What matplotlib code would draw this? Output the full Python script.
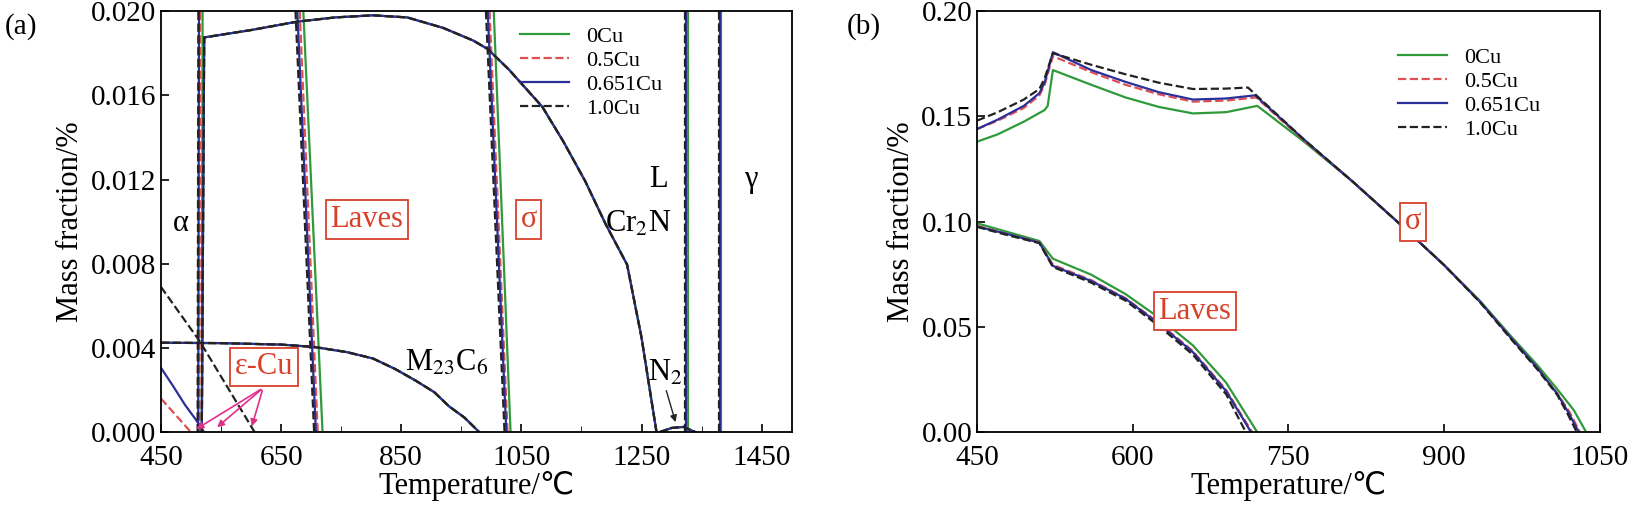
import numpy as np
import matplotlib.pyplot as plt

plt.rcParams['font.family'] = ['Liberation Serif', 'DejaVu Sans']
plt.rcParams['mathtext.fontset'] = 'stix'

labels = ['0Cu', '0.5Cu', '0.651Cu', '1.0Cu']
colors = ['#2e9a3a', '#e05050', '#2b2f9a', '#222222']
styles = ['-', '--', '-', '--']
box_red = '#d8402a'

# ---- panel (a) data: (T, fraction) ----
a_alpha_T = [[518, 520], [514, 516], [512, 514], [511, 513]]
a_up_T = [518, 522, 600, 677, 740, 803, 860, 920, 970, 994, 1030, 1085, 1120, 1156, 1190, 1226, 1250, 1275]
a_up_y = [0.0, 0.01875, 0.0191, 0.0195, 0.0197, 0.0198, 0.0197, 0.0192, 0.0186, 0.0182, 0.0172, 0.01545,
          0.0138, 0.01194, 0.0099, 0.00796, 0.0045, 0.0]
a_lav_top = [687, 681, 677, 674]
a_lav_bot = [719, 711, 708, 705]
a_sig_top = [1004, 997, 994, 991]
a_sig_bot = [1032, 1027, 1025, 1022]
a_L = [1327, 1325, 1324, 1322]
a_gam = [1382, 1381, 1380, 1379]
a_m_T = [450, 550, 650, 705, 760, 803, 840, 874, 905, 930, 955, 980]
a_m_y = [0.00425, 0.00423, 0.00416, 0.00405, 0.0038, 0.0035, 0.0030, 0.00245, 0.0019, 0.00122, 0.0007, 0.0]
a_eps_T = [[], [450, 475, 500], [450, 470, 490, 508, 522], [450, 515, 606]]
a_eps_y = [[], [0.0016, 0.0008, 0.0], [0.00306, 0.0022, 0.0013, 0.0006, 0.0], [0.0069, 0.0043, 0.0]]
a_n2_T = [1280, 1300, 1320, 1340]
a_n2_y = [0.0, 0.0002, 0.00025, 0.0]

# ---- panel (b) data ----
b_sig_T = [[450, 470, 495, 515, 518, 523, 560, 593, 625, 658, 690, 720, 765, 812, 856, 900, 935, 965, 990, 1009, 1025, 1037],
           [450, 470, 495, 510, 515, 523, 560, 593, 625, 658, 690, 719, 765, 812, 856, 900, 935, 965, 990, 1009, 1021, 1031],
           [450, 470, 495, 510, 515, 523, 560, 593, 625, 658, 690, 718, 765, 812, 856, 900, 935, 965, 990, 1009, 1020, 1030],
           [450, 470, 495, 510, 515, 523, 560, 593, 625, 658, 690, 711, 765, 812, 856, 900, 935, 965, 990, 1009, 1019, 1028]]
b_sig_y = [[0.138, 0.1415, 0.1475, 0.153, 0.155, 0.172, 0.165, 0.159, 0.1545, 0.1514, 0.152, 0.155, 0.138, 0.119, 0.0995, 0.0794, 0.0622, 0.0453, 0.0318, 0.0205, 0.0105, 0.0],
           [0.144, 0.148, 0.154, 0.160, 0.165, 0.1786, 0.171, 0.165, 0.1605, 0.157, 0.1575, 0.159, 0.1385, 0.119, 0.0995, 0.0794, 0.0618, 0.0445, 0.0305, 0.0185, 0.0095, 0.0],
           [0.144, 0.1485, 0.155, 0.161, 0.166, 0.1805, 0.172, 0.1664, 0.1615, 0.158, 0.1585, 0.160, 0.139, 0.119, 0.0995, 0.0794, 0.0618, 0.0445, 0.0305, 0.0183, 0.0092, 0.0],
           [0.148, 0.152, 0.158, 0.163, 0.168, 0.180, 0.1745, 0.170, 0.166, 0.163, 0.1632, 0.1637, 0.139, 0.119, 0.0995, 0.0794, 0.0615, 0.0440, 0.0298, 0.0178, 0.0088, 0.0]]
b_lav_T = [[450, 480, 510, 523, 560, 593, 625, 658, 690, 720],
           [450, 480, 510, 523, 560, 593, 625, 658, 690, 715],
           [450, 480, 510, 523, 560, 593, 625, 658, 690, 714],
           [450, 480, 510, 523, 560, 593, 625, 658, 690, 709]]
b_lav_y = [[0.0992, 0.095, 0.0908, 0.0824, 0.0748, 0.0656, 0.0545, 0.0412, 0.0235, 0.0],
           [0.0980, 0.094, 0.0902, 0.0795, 0.0722, 0.0636, 0.0520, 0.0385, 0.020, 0.0],
           [0.0977, 0.094, 0.0900, 0.0790, 0.0718, 0.0634, 0.0515, 0.0380, 0.0195, 0.0],
           [0.0975, 0.0935, 0.0898, 0.0785, 0.0710, 0.0625, 0.0505, 0.0368, 0.0180, 0.0]]

fig = plt.figure(figsize=(16.34, 5.29), dpi=100)
ax1 = fig.add_axes([0.0985, 0.183, 0.386, 0.796])
ax2 = fig.add_axes([0.598, 0.183, 0.381, 0.796])

for i in range(4):
    kw = dict(color=colors[i], ls=styles[i], lw=1.6)
    ax1.plot(a_alpha_T[i], [0, 0.03], **kw)
    ax1.plot(a_up_T, a_up_y, **kw)
    ax1.plot([a_lav_top[i], a_lav_bot[i]], [0.02, 0], label=labels[i], **kw)
    ax1.plot([a_sig_top[i], a_sig_bot[i]], [0.02, 0], **kw)
    ax1.plot([a_L[i], a_L[i]], [0, 0.03], **kw)
    ax1.plot([a_gam[i], a_gam[i]], [0, 0.03], **kw)
    ax1.plot(a_m_T, a_m_y, **kw)
    if a_eps_T[i]:
        ax1.plot(a_eps_T[i], a_eps_y[i], **kw)
    ax1.plot(a_n2_T, a_n2_y, **kw)

    ax2.plot(b_sig_T[i], b_sig_y[i], label=labels[i], **kw)
    ax2.plot(b_lav_T[i], b_lav_y[i], **kw)

ax1.set_xlim(450, 1500)
ax1.set_ylim(0, 0.020)
ax1.set_xticks([450, 650, 850, 1050, 1250, 1450])
ax1.set_xticks(np.arange(550, 1500, 200), minor=True)
ax1.set_yticks(np.arange(0, 0.0201, 0.004))
ax1.set_yticklabels(['0.000', '0.004', '0.008', '0.012', '0.016', '0.020'])

ax2.set_xlim(450, 1050)
ax2.set_ylim(0, 0.20)
ax2.set_xticks([450, 600, 750, 900, 1050])
ax2.set_yticks([0, 0.05, 0.10, 0.15, 0.20])
ax2.set_yticklabels(['0.00', '0.05', '0.10', '0.15', '0.20'])

for ax in (ax1, ax2):
    ax.tick_params(labelsize=21, direction='in', length=6, width=1.2)
    ax.tick_params(axis='x', pad=9)
    ax.tick_params(which='minor', direction='in', length=4)
    ax.set_xlabel('Temperature/℃', fontsize=22, labelpad=0)
    ax.set_ylabel('Mass fraction/%', fontsize=22)
    for s in ax.spines.values():
        s.set_linewidth(1.3)
    ax.legend(loc='upper right', fontsize=16, frameon=False, handlelength=2.2,
              labelspacing=0.15, borderaxespad=0.3)

ax1.get_legend().set_bbox_to_anchor((0.82, 1.0))
ax2.get_legend().set_bbox_to_anchor((0.93, 0.95))

box = dict(boxstyle='square,pad=0.15', fc='white', ec=box_red, lw=1.3)
t = dict(fontsize=22, ha='center', va='center')
ax1.text(483, 0.0099, 'α', **t)
ax1.text(793, 0.0101, 'Laves', color=box_red, bbox=box, **t)
ax1.text(1062, 0.0101, 'σ', color=box_red, bbox=box, **t)
ax1.text(1279, 0.0120, 'L', **t)
ax1.text(1245, 0.0099, r'Cr$_2$N', **t)
ax1.text(1432, 0.0120, 'γ', **t)
ax1.text(925, 0.0033, r'M$_{23}$C$_6$', **t)
ax1.text(622, 0.0031, 'ε-Cu', color=box_red, bbox=box, **t)
ax1.text(1290, 0.0028, r'N$_2$', **t)
for xt, yt in [(505, 0.00008), (540, 0.00015), (600, 0.00015)]:
    ax1.annotate('', xy=(xt, yt), xytext=(620, 0.0021),
                 arrowprops=dict(arrowstyle='-|>', color='#e0308a', lw=1.2))
ax1.annotate('', xy=(1308, 0.00035), xytext=(1290, 0.0021),
             arrowprops=dict(arrowstyle='-|>', color='#222222', lw=1.0))

ax2.text(870, 0.100, 'σ', color=box_red, bbox=box, **t)
ax2.text(660, 0.0575, 'Laves', color=box_red, bbox=box, **t)

fig.text(0.003, 0.975, '(a)', fontsize=21, va='top')
fig.text(0.518, 0.975, '(b)', fontsize=21, va='top')

fig.savefig('out.png', dpi=100)
